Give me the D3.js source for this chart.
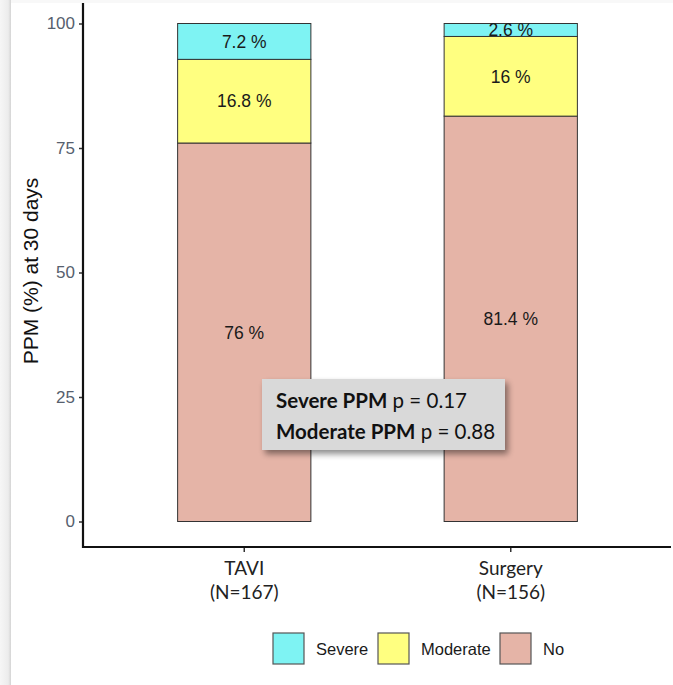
<!DOCTYPE html>
<html>
<head>
<meta charset="utf-8">
<script src="https://cdn.jsdelivr.net/npm/d3@7"></script>
<style>
  html, body { margin: 0; padding: 0; background: #fff; }
  svg { display: block; }
</style>
</head>
<body>
<svg id="chart" width="673" height="685"></svg>
<script>
// Groups and their x-axis labels
const groups = ["TAVI", "Surgery"];
const groupCounts = ["(N=167)", "(N=156)"];
// PPM severity categories, stacked from bottom to top
const categories = ["No", "Moderate", "Severe"];
const noValues = [76, 81.4];
const moderateValues = [16.8, 16];
const severeValues = [7.2, 2.6];
const yTicks = [0, 25, 50, 75, 100];
const legendOrder = ["Severe", "Moderate", "No"];
const pValueLines = [["Severe PPM", " p = 0.17"], ["Moderate PPM", " p = 0.88"]];

const colors = { Severe: "#7ef3f3", Moderate: "#ffff80", No: "#e5b4a7" };

const rows = groups.map((g, i) => ({
  group: g, No: noValues[i], Moderate: moderateValues[i], Severe: severeValues[i]
}));

const svg = d3.select("#chart");

// soft frame shading on the left and top edges
const defs = svg.append("defs");
const lg = defs.append("linearGradient").attr("id", "edge").attr("x1", 0).attr("x2", 1);
lg.append("stop").attr("offset", 0).attr("stop-color", "#f6f6f6");
lg.append("stop").attr("offset", 0.75).attr("stop-color", "#ececec");
lg.append("stop").attr("offset", 1).attr("stop-color", "#d4d4d4");
svg.append("rect").attr("x", 0).attr("y", 0).attr("width", 11).attr("height", 685).attr("fill", "url(#edge)");
svg.append("rect").attr("x", 11).attr("y", 0).attr("width", 662).attr("height", 3).attr("fill", "#f8f8f8");

const shadow = defs.append("filter").attr("id", "shadow")
  .attr("x", "-10%").attr("y", "-20%").attr("width", "130%").attr("height", "150%");
shadow.append("feGaussianBlur").attr("in", "SourceAlpha").attr("stdDeviation", 3);
shadow.append("feOffset").attr("dx", 3).attr("dy", 4).attr("result", "b");
shadow.append("feComponentTransfer").append("feFuncA").attr("type", "linear").attr("slope", 0.45);
const merge = shadow.append("feMerge");
merge.append("feMergeNode");
merge.append("feMergeNode").attr("in", "SourceGraphic");

const y = d3.scaleLinear().domain([0, 100]).range([521.5, 23.5]);
const x = d3.scaleBand().domain(groups).range([111, 644]).paddingInner(0.5).paddingOuter(0.25);

const stack = d3.stack().keys(categories)(rows);

// stacked bars
const layer = svg.append("g").selectAll("g").data(stack).join("g")
  .attr("fill", d => colors[d.key]);
layer.selectAll("rect").data(d => d.map(s => ({ key: d.key, s }))).join("rect")
  .attr("x", d => x(d.s.data.group))
  .attr("width", x.bandwidth())
  .attr("y", d => y(d.s[1]))
  .attr("height", d => y(d.s[0]) - y(d.s[1]))
  .attr("stroke", "#333")
  .attr("stroke-width", 1);

// segment value labels
layer.selectAll("text").data(d => d.map(s => ({ key: d.key, s }))).join("text")
  .attr("x", d => x(d.s.data.group) + x.bandwidth() / 2)
  .attr("y", d => y((d.s[0] + d.s[1]) / 2))
  .attr("dy", "0.36em")
  .attr("text-anchor", "middle")
  .attr("fill", "#1a1a1a")
  .style("font-family", "Liberation Sans, Arial, sans-serif")
  .style("font-size", "17.5px")
  .text(d => `${+(d.s[1] - d.s[0]).toFixed(1)} %`);

// y axis
const yAxis = svg.append("g").attr("transform", "translate(83,0)")
  .call(d3.axisLeft(y).tickValues(yTicks).tickSize(4).tickPadding(4));
yAxis.select(".domain").remove();
yAxis.append("line").attr("x1", 0).attr("x2", 0).attr("y1", 3).attr("y2", 548)
  .attr("stroke", "#111").attr("stroke-width", 2.2);
yAxis.selectAll(".tick line").attr("stroke", "#333").attr("stroke-width", 1.5);
yAxis.selectAll(".tick text")
  .attr("fill", "#56606e")
  .style("font-family", "Liberation Sans, Arial, sans-serif")
  .style("font-size", "17px");

// x axis
const xAxis = svg.append("g").attr("transform", "translate(0,547)")
  .call(d3.axisBottom(x).tickSize(5).tickFormat(() => ""));
xAxis.select(".domain").remove();
xAxis.append("line").attr("x1", 82).attr("x2", 671).attr("y1", 0).attr("y2", 0)
  .attr("stroke", "#111").attr("stroke-width", 2.2);
xAxis.selectAll(".tick line").attr("stroke", "#333").attr("stroke-width", 1.5);
xAxis.selectAll(".tick").each(function (d, i) {
  const t = d3.select(this).append("text")
    .attr("text-anchor", "middle")
    .attr("fill", "#222")
    .style("font-family", "Lato, 'Open Sans', sans-serif")
    .style("font-size", "19px");
  t.append("tspan").attr("x", 0).attr("y", 28).text(groups[i]);
  t.append("tspan").attr("x", 0).attr("y", 52).text(groupCounts[i]);
});

// y axis title
svg.append("text")
  .attr("transform", "translate(38,271) rotate(-90)")
  .attr("text-anchor", "middle")
  .attr("fill", "#111")
  .style("font-family", "Liberation Sans, Arial, sans-serif")
  .style("font-size", "21px")
  .text("PPM (%) at 30 days");

// p-value annotation box
const ann = svg.append("g");
ann.append("rect").attr("x", 262).attr("y", 379).attr("width", 243).attr("height", 71)
  .attr("fill", "#d9d9d9").attr("filter", "url(#shadow)");
pValueLines.forEach((ln, i) => {
  const t = ann.append("text").attr("x", 276).attr("y", 408 + i * 31)
    .attr("fill", "#111")
    .style("font-family", "Lato, 'Open Sans', sans-serif")
    .style("font-size", "20.5px");
  t.append("tspan").attr("font-weight", "bold").text(ln[0]);
  t.append("tspan").text(ln[1]);
});

// legend
const legendX = [273, 378, 500];
const leg = svg.append("g").selectAll("g").data(legendOrder).join("g")
  .attr("transform", (d, i) => `translate(${legendX[i]},633)`);
leg.append("rect").attr("width", 31).attr("height", 31)
  .attr("fill", d => colors[d]).attr("stroke", "#555").attr("stroke-width", 1.2);
leg.append("text").attr("x", 43).attr("y", 16).attr("dy", "0.35em")
  .attr("fill", "#1a1a1a")
  .style("font-family", "Liberation Sans, Arial, sans-serif")
  .style("font-size", "16.5px")
  .text(d => d);
</script>
</body>
</html>
